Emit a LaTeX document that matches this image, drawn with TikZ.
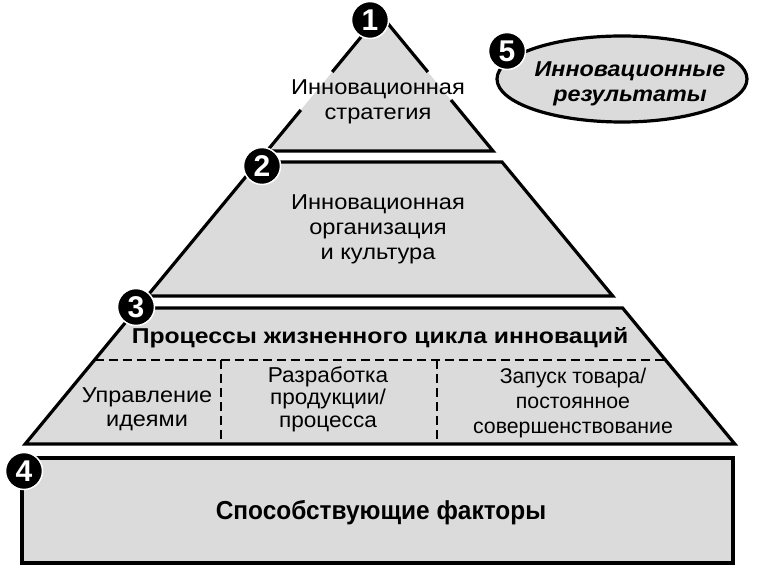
\documentclass[tikz,border=0pt]{standalone}
\usepackage{fontspec}
\setmainfont{Liberation Sans}
\usetikzlibrary{shapes.geometric}
\definecolor{layergray}{gray}{0.86}
\tikzset{
  edge/.style={draw=black, line width=3.2pt, line join=miter},
  layer/.style={fill=layergray, edge},
  badge/.style={circle, fill=black, draw=white, line width=1.5pt, minimum size=37pt, inner sep=0pt, text=white, font=\fontsize{30}{30}\selectfont\bfseries},
  txt/.style={align=center, inner sep=0pt, transform shape, font=\fontsize{21.5}{25}\selectfont},
  btxt/.style={align=center, inner sep=0pt, transform shape, font=\fontsize{21.5}{25}\selectfont\bfseries},
  itxt/.style={align=center, inner sep=0pt, transform shape, font=\fontsize{21.5}{25}\selectfont\bfseries\itshape},
  sep/.style={line width=2.2pt, dash pattern=on 9pt off 5pt},
}
\begin{document}
\begin{tikzpicture}[x=1pt,y=-1pt]
\useasboundingbox (0,0) rectangle (771,569);
\fill[white] (0,0) rectangle (771,569);
% layer 1 (edges broken where the text crosses them)
\coordinate (apex) at (380,14);
\coordinate (bl) at (267,151);
\coordinate (br) at (493,151);
\coordinate (lu) at (332.2,72);
\coordinate (ll) at (300.8,110);
\coordinate (ru) at (427.9,72);
\coordinate (rl) at (451,100);
\fill[layergray] (apex) -- (br) -- (bl) -- cycle;
\draw[edge] (lu) -- (apex) -- (ru);
\draw[edge] (ll) -- (bl) -- (br) -- (rl);
% layers 2, 3, 4
\draw[layer] (258,162) -- (502,162) -- (612.7,296) -- (147.3,296) -- cycle;
\draw[layer] (137.4,308) -- (622.6,308) -- (734.8,444) -- (25.2,444) -- cycle;
\draw[layer] (22,458) rectangle (733,563);
% separators in layer 3
\coordinate (dl) at (94.5,360);
\coordinate (dr) at (665.5,360);
\coordinate (v1t) at (221,360);
\coordinate (v1b) at (221,444);
\coordinate (v2t) at (437,360);
\coordinate (v2b) at (437,444);
\draw[sep] (dl) -- (dr);
\draw[sep] (v1t) -- (v1b);
\draw[sep] (v2t) -- (v2b);
% results ellipse
\node[ellipse, layer, minimum width=250pt, minimum height=86pt] (res) at (622,79) {};
\node[itxt, xscale=1.085] (rest) at (630,84) {Инновационные\\результаты};
% texts
\node[txt, xscale=1.1] (t1) at (378,102) {Инновационная\\стратегия};
\node[txt, xscale=1.1] (t2) at (378,229.5) {Инновационная\\организация\\и культура};
\node[btxt, xscale=1.15] (t3) at (380,337.5) {Процессы жизненного цикла инноваций};
\node[txt, xscale=1.09, font=\fontsize{21.5}{24}\selectfont] (t31) at (147,409.5) {Управление\\идеями};
\node[txt, xscale=1.05, font=\fontsize{21.5}{22.5}\selectfont] (t32) at (328,399) {Разработка\\продукции/\\процесса};
\node[txt, font=\fontsize{21.3}{25}\selectfont] (t33) at (573,403) {Запуск товара/\\постоянное\\совершенствование};
\node[btxt, xscale=0.94, font=\fontsize{26}{26}\selectfont\bfseries] (t4) at (381,513) {Способствующие факторы};
% badges
\node[badge] (b1) at (370,20) {1};
\node[badge] (b2) at (262,166) {2};
\node[badge] (b3) at (136,307) {3};
\node[badge] (b4) at (24,471) {4};
\node[badge] (b5) at (507,51) {5};
\end{tikzpicture}
\end{document}
